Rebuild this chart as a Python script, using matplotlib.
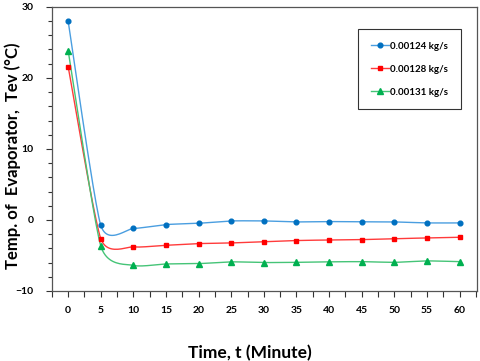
import numpy as np
import matplotlib
matplotlib.use("Agg")
import matplotlib.pyplot as plt
from matplotlib.ticker import MultipleLocator

time_min = [0, 5, 10, 15, 20, 25, 30, 35, 40, 45, 50, 55, 60]
t_124 = [28.0, -0.75, -1.2, -0.65, -0.47, -0.14, -0.14, -0.28, -0.23, -0.28, -0.28, -0.42, -0.42]
t_128 = [21.6, -2.63, -3.8, -3.57, -3.33, -3.24, -3.05, -2.9, -2.82, -2.77, -2.63, -2.54, -2.44]
t_131 = [23.85, -3.66, -6.4, -6.2, -6.15, -5.9, -6.0, -5.97, -5.9, -5.87, -5.97, -5.77, -5.87]
labels = ["0.00124 kg/s", "0.00128 kg/s", "0.00131 kg/s"]

plt.rcParams['font.family'] = ['Lato', 'DejaVu Sans']
plt.rcParams['font.weight'] = 'bold'


def smooth(x, y, n=24, f=0.1):
    # smoothed line (Bezier with Catmull-Rom style tangents) through the data points
    x = np.asarray(x, float); y = np.asarray(y, float)
    px = np.concatenate([[x[0]], x, [x[-1]]])
    py = np.concatenate([[y[0]], y, [y[-1]]])
    xs, ys = [], []
    t = np.linspace(0, 1, n)
    for i in range(1, len(px) - 2):
        p0 = np.array([px[i], py[i]]); p3 = np.array([px[i + 1], py[i + 1]])
        p1 = p0 + (np.array([px[i + 1], py[i + 1]]) - np.array([px[i - 1], py[i - 1]])) * f
        p2 = p3 - (np.array([px[i + 2], py[i + 2]]) - np.array([px[i], py[i]])) * f
        b = ((1 - t) ** 3)[:, None] * p0 + (3 * (1 - t) ** 2 * t)[:, None] * p1 + \
            (3 * (1 - t) * t ** 2)[:, None] * p2 + (t ** 3)[:, None] * p3
        xs.extend(b[:, 0]); ys.extend(b[:, 1])
    return xs, ys


fig = plt.figure(figsize=(4.8, 3.61), dpi=100)
ax = fig.add_axes([0.108, 0.194, 0.886, 0.787])

series = [
    (t_124, '#0070C0', '#4a9ee0', 'o', 3.4),
    (t_128, '#FF0000', '#ff3b3b', 's', 3.4),
    (t_131, '#00B050', '#45c477', '^', 3.8),
]
for (vals, mc, lc, mk, ms), lab in zip(series, labels):
    sx, sy = smooth(time_min, vals)
    ax.plot(sx, sy, color=lc, lw=1.0, zorder=2)
    ax.plot(time_min, vals, linestyle='none', marker=mk, color=mc, ms=ms, zorder=3)
    ax.plot([], [], color=lc, lw=1.0, marker=mk, mfc=mc, mec=mc, ms=ms, label=lab)

ax.set_xlim(-2.5, 62.7)
ax.set_ylim(-10, 30)
ax.xaxis.set_major_locator(MultipleLocator(5))
ax.xaxis.set_minor_locator(MultipleLocator(2.5))
ax.yaxis.set_major_locator(MultipleLocator(10))
ax.yaxis.set_minor_locator(MultipleLocator(2))
ax.tick_params(axis='both', which='both', direction='out', labelsize=7.5, width=0.8, color='#333333')
ax.tick_params(axis='x', which='both', length=4, pad=7)
ax.tick_params(axis='y', which='major', length=4, pad=9)
ax.tick_params(axis='y', which='minor', length=3)
for sp in ax.spines.values():
    sp.set_linewidth(0.9)
    sp.set_color('#555555')

ax.set_xlabel('Time, t (Minute)', fontsize=12.5, fontweight='bold')
ax.xaxis.set_label_coords((250 - 52) / 425, (291 - 353) / 284, transform=ax.transAxes)
ax.xaxis.label.set_va('center')
ax.set_ylabel('Temp. of  Evaporator,  Tev (°C)', fontsize=12, fontweight='bold')
ax.yaxis.set_label_coords((12.5 - 52) / 425, (291 - 156) / 284, transform=ax.transAxes)
ax.yaxis.label.set_va('center')

leg = ax.legend(loc='upper right', bbox_to_anchor=((461 - 52) / 425, (291 - 29) / 284),
                frameon=True, fancybox=False,
                edgecolor='black', fontsize=7, handlelength=1.8, labelspacing=1.45,
                borderpad=1.3, handletextpad=0.2, borderaxespad=0)
leg.get_frame().set_linewidth(0.8)
for txt in leg.get_texts():
    txt.set_fontweight('bold')

fig.savefig('out.png', dpi=100)
